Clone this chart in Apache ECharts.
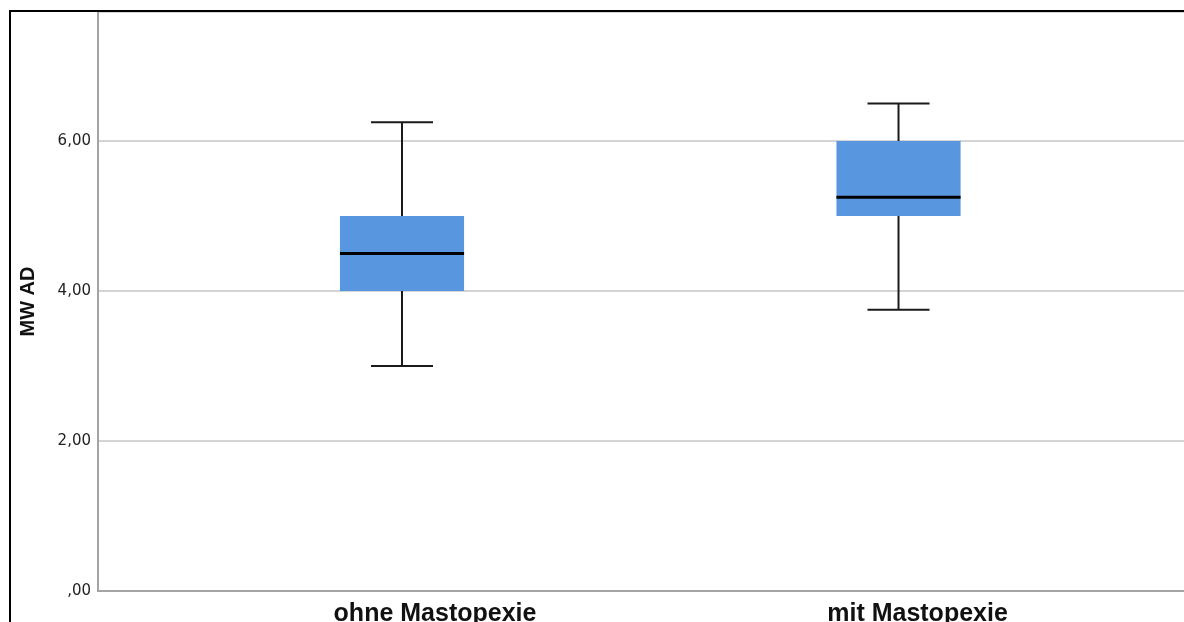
<!DOCTYPE html>
<html>
<head>
<meta charset="utf-8">
<title>MW AD – Boxplot</title>
<script src="https://cdn.jsdelivr.net/npm/echarts@6/dist/echarts.min.js"></script>
<style>
  html, body { margin: 0; padding: 0; background: #ffffff; }
  #chart { width: 1184px; height: 622px; }
</style>
</head>
<body>
<div id="chart"></div>
<script>
// Groups and five-number summaries
const categories = ['ohne Mastopexie', 'mit Mastopexie'];
const whiskerLow = [3.0, 3.75];
const q1 = [4.0, 5.0];
const median = [4.5, 5.25];
const q3 = [5.0, 6.0];
const whiskerHigh = [6.25, 6.5];

// Y axis ticks
const tickValues = [0, 2, 4, 6];
const tickLabels = [',00', '2,00', '4,00', '6,00'];

const boxData = categories.map((c, i) => [i, whiskerLow[i], q1[i], median[i], q3[i], whiskerHigh[i]]);

const chart = echarts.init(document.getElementById('chart'), null, { renderer: 'canvas' });

function renderBox(params, api) {
  const x = api.value(0);
  const lo = api.coord([x, api.value(1)]);
  const b1 = api.coord([x, api.value(2)]);
  const md = api.coord([x, api.value(3)]);
  const b3 = api.coord([x, api.value(4)]);
  const hi = api.coord([x, api.value(5)]);
  const boxW = api.size([0.25, 0])[0];
  const capW = api.size([0.125, 0])[0];
  const cx = lo[0];
  const lineStyle = { stroke: '#1a1a1a', lineWidth: 2, fill: null };
  return {
    type: 'group',
    children: [
      // whiskers
      { type: 'line', shape: { x1: cx, y1: b3[1], x2: cx, y2: hi[1] }, style: lineStyle },
      { type: 'line', shape: { x1: cx, y1: b1[1], x2: cx, y2: lo[1] }, style: lineStyle },
      { type: 'line', shape: { x1: cx - capW / 2, y1: hi[1], x2: cx + capW / 2, y2: hi[1] }, style: lineStyle },
      { type: 'line', shape: { x1: cx - capW / 2, y1: lo[1], x2: cx + capW / 2, y2: lo[1] }, style: lineStyle },
      // box
      { type: 'rect', shape: { x: cx - boxW / 2, y: b3[1], width: boxW, height: b1[1] - b3[1] },
        style: { fill: '#5896e0', stroke: null } },
      // median
      { type: 'line', shape: { x1: cx - boxW / 2, y1: md[1], x2: cx + boxW / 2, y2: md[1] },
        style: { stroke: '#000000', lineWidth: 3 } }
    ]
  };
}

const catFont = {
  fontFamily: 'Liberation Sans, Arial, sans-serif',
  fontWeight: 'bold',
  fontSize: 25,
  color: '#111111'
};

const option = {
  backgroundColor: '#ffffff',
  animation: false,
  grid: { left: 98, right: 0, top: 12, bottom: 31, containLabel: false, outerBoundsMode: 'none' },
  xAxis: {
    type: 'value',
    min: -0.6123,
    max: 1.575,
    axisLine: { show: true, onZero: false, lineStyle: { color: '#a3a3a3', width: 2 } },
    axisTick: { show: false },
    splitLine: { show: false },
    axisLabel: Object.assign({
      customValues: [0, 1],
      formatter: v => {
        const i = Math.round(v);
        return categories[i] ? '{c' + i + '|' + categories[i] + '}' : '';
      },
      margin: 11,
      rich: {
        c0: Object.assign({ padding: [0, 0, 0, 66] }, catFont),
        c1: Object.assign({ padding: [0, 0, 0, 38] }, catFont)
      }
    }, catFont)
  },
  yAxis: {
    type: 'value',
    min: 0,
    max: 7.72,
    interval: 2,
    name: 'MW AD',
    nameLocation: 'middle',
    nameRotate: 90,
    nameGap: 60,
    nameTextStyle: {
      fontFamily: 'Liberation Sans, Arial, sans-serif',
      fontWeight: 'bold',
      fontSize: 20,
      color: '#111111'
    },
    axisLine: { show: true, onZero: false, lineStyle: { color: '#a3a3a3', width: 2 } },
    axisTick: { show: false },
    splitLine: { show: true, lineStyle: { color: '#d4d4d4', width: 2 } },
    axisLabel: {
      customValues: tickValues,
      formatter: v => tickLabels[tickValues.indexOf(v)] || '',
      margin: 7,
      fontFamily: 'DejaVu Sans, Verdana, sans-serif',
      fontSize: 15,
      color: '#222222'
    }
  },
  graphic: [
    {
      type: 'polyline',
      z: 100,
      silent: true,
      shape: { points: [[10, 622], [10, 11], [1184, 11]] },
      style: { stroke: '#000000', lineWidth: 2, fill: null }
    }
  ],
  series: [
    {
      type: 'custom',
      renderItem: renderBox,
      encode: { x: 0, y: [1, 2, 3, 4, 5] },
      data: boxData,
      clip: false
    }
  ]
};

chart.setOption(option);
</script>
</body>
</html>
